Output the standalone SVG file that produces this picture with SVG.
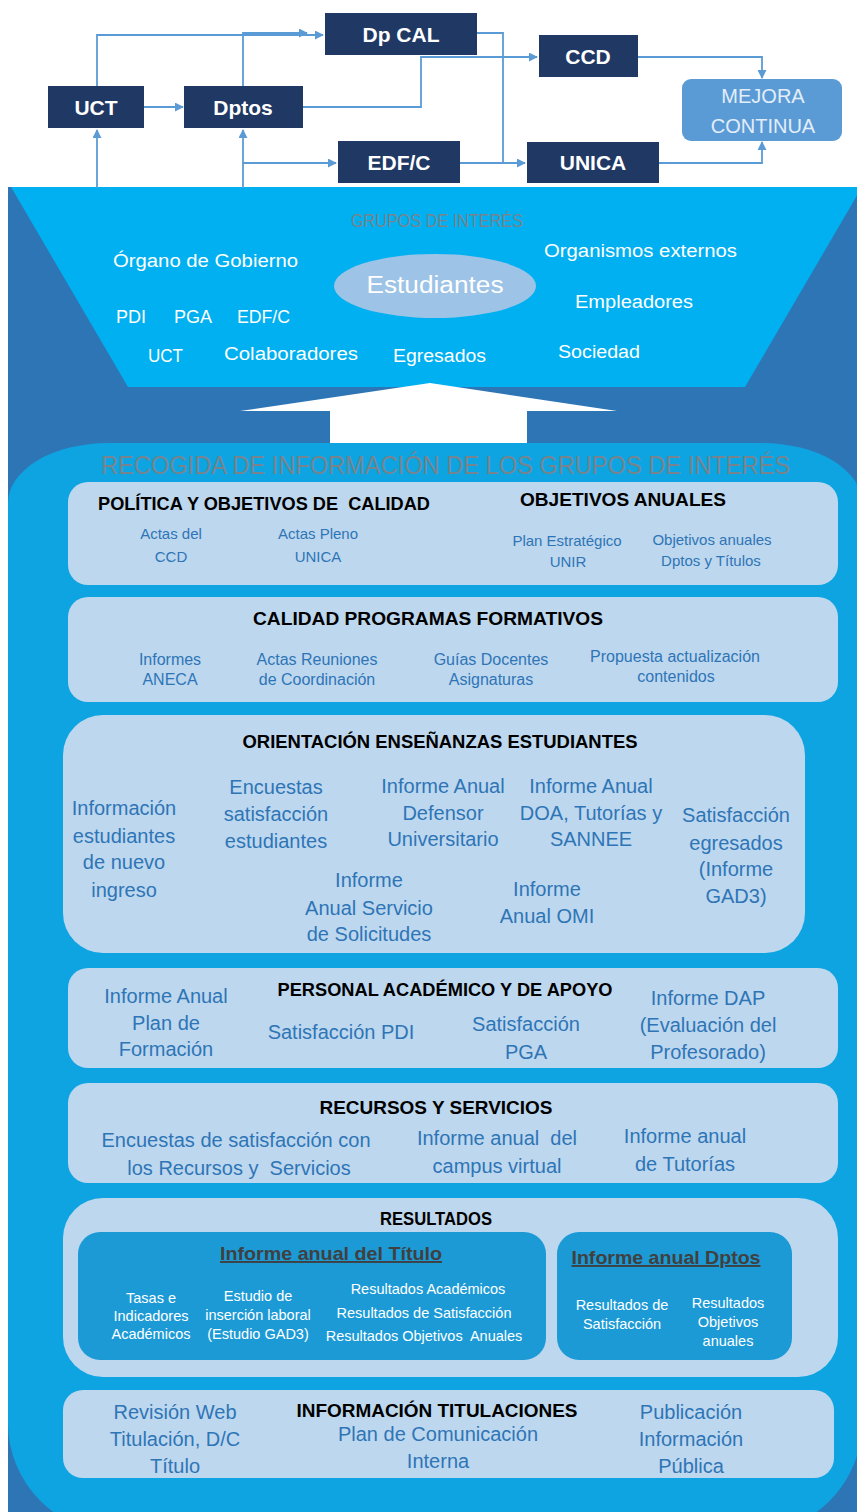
<svg xmlns="http://www.w3.org/2000/svg" width="857" height="1512" viewBox="0 0 857 1512">
<style>
text{font-family:"Liberation Sans",Arial,sans-serif}
.box{fill:#203864}
.bt{fill:#fff;font-weight:bold;font-size:21px;text-anchor:middle}
.con{fill:none;stroke:#5b9bd5;stroke-width:1.8}
.fw{fill:#fff;font-size:18px}
.gray{fill:#77848e}
.pan{fill:#bdd7ee}
.pt{fill:#000;font-weight:bold;font-size:18px}
.s1{fill:#2e75b6;font-size:15px;text-anchor:middle}
.s2{fill:#2e75b6;font-size:16px;text-anchor:middle}
.s3{fill:#2e75b6;font-size:20px;text-anchor:middle}
.inner{fill:#1c9ad6}
.it{fill:#404040;font-weight:bold;font-size:19px;text-anchor:middle;text-decoration:underline}
.w{fill:#fff;font-size:14.5px;text-anchor:middle}
</style>
<defs>
<marker id="ah" viewBox="0 0 10 10" refX="9" refY="5" markerWidth="5" markerHeight="5" orient="auto" markerUnits="strokeWidth">
<path d="M0,0 L10,5 L0,10 Z" fill="#5b9bd5"/>
</marker>
</defs>
<rect width="857" height="1512" fill="#fff"/>
<g id="background">
<rect x="8" y="187" width="849" height="1325" fill="#2e75b6"/>
<polygon id="funnel" points="11,187 862,187 745,387 128,387" fill="#00b0f0"/>
<polygon id="up-arrow" points="430,383 617,411 527,411 527,444 330,444 330,411 240,411" fill="#fff"/>
<path id="region" d="M108,443 H762 A100 60 0 0 1 862 503 V1423 A110 110 0 0 1 752 1533 H118 A110 110 0 0 1 8 1423 V503 A100 60 0 0 1 108 443 Z" fill="#0ea4e1"/>
</g>
<g id="connectors">
<path class="con" d="M97,86 V35 H323" marker-end="url(#ah)"/>
<path class="con" d="M243,86 V33 H307" marker-end="url(#ah)"/>
<path class="con" d="M144,107 H183" marker-end="url(#ah)"/>
<path class="con" d="M303,107 H421 V57 H537" marker-end="url(#ah)"/>
<path class="con" d="M477,33 H503 V163 H525" marker-end="url(#ah)"/>
<path class="con" d="M460,163 H503"/>
<path class="con" d="M97,188 V130" marker-end="url(#ah)" stroke-width="2"/>
<path class="con" d="M243,188 V130" marker-end="url(#ah)" stroke-width="2"/>
<path class="con" d="M243,163 H336" marker-end="url(#ah)"/>
<path class="con" d="M638,57 H762 V78" marker-end="url(#ah)"/>
<path class="con" d="M659,163 H762 V142" marker-end="url(#ah)"/>
</g>
<g id="node-dpcal"><rect class="box" x="325" y="13" width="152" height="42"/><text class="bt" x="401" y="42">Dp CAL</text></g>
<g id="node-uct"><rect class="box" x="48" y="86" width="96" height="42"/><text class="bt" x="96" y="115">UCT</text></g>
<g id="node-dptos"><rect class="box" x="184" y="86" width="119" height="42"/><text class="bt" x="243" y="115">Dptos</text></g>
<g id="node-ccd"><rect class="box" x="539" y="35" width="99" height="42"/><text class="bt" x="588" y="64">CCD</text></g>
<g id="node-edfc"><rect class="box" x="338" y="141" width="122" height="42"/><text class="bt" x="399" y="170">EDF/C</text></g>
<g id="node-unica"><rect class="box" x="527" y="142" width="132" height="41"/><text class="bt" x="593" y="170">UNICA</text></g>
<g id="node-mejora"><rect x="682" y="79" width="160" height="62" rx="9" fill="#5b9bd5"/><text x="763" y="103" fill="#e2eefa" font-size="20" text-anchor="middle">MEJORA</text><text x="763" y="133" fill="#e2eefa" font-size="20" text-anchor="middle">CONTINUA</text></g>
<g id="grupos">
<text class="gray" x="437" y="227" font-size="19" text-anchor="middle" textLength="172" lengthAdjust="spacingAndGlyphs">GRUPOS DE INTERÉS</text>
<text class="fw" x="113" y="267" textLength="185" lengthAdjust="spacingAndGlyphs">Órgano de Gobierno</text>
<text class="fw" x="544" y="257" textLength="193" lengthAdjust="spacingAndGlyphs">Organismos externos</text>
<ellipse cx="435" cy="286" rx="101" ry="32" fill="#9dc3e6"/>
<text x="435" y="293" fill="#fff" font-size="23" text-anchor="middle" textLength="137" lengthAdjust="spacingAndGlyphs">Estudiantes</text>
<text class="fw" x="575" y="308" textLength="118" lengthAdjust="spacingAndGlyphs">Empleadores</text>
<text class="fw" x="116" y="323" textLength="30" lengthAdjust="spacingAndGlyphs">PDI</text>
<text class="fw" x="174" y="323" textLength="38" lengthAdjust="spacingAndGlyphs">PGA</text>
<text class="fw" x="237" y="323" textLength="53" lengthAdjust="spacingAndGlyphs">EDF/C</text>
<text class="fw" x="148" y="362" textLength="35" lengthAdjust="spacingAndGlyphs">UCT</text>
<text class="fw" x="224" y="360" textLength="134" lengthAdjust="spacingAndGlyphs">Colaboradores</text>
<text class="fw" x="393" y="362" textLength="93" lengthAdjust="spacingAndGlyphs">Egresados</text>
<text class="fw" x="558" y="358" textLength="82" lengthAdjust="spacingAndGlyphs">Sociedad</text>
</g>
<text class="gray" x="101" y="474" font-size="26" textLength="689" lengthAdjust="spacingAndGlyphs">RECOGIDA DE INFORMACIÓN DE LOS GRUPOS DE INTERÉS</text>
<g id="panel-politica">
<rect class="pan" x="68" y="482" width="770" height="103" rx="20"/>
<text class="pt" x="98" y="510" textLength="332" lengthAdjust="spacingAndGlyphs" xml:space="preserve">POLÍTICA Y OBJETIVOS DE  CALIDAD</text>
<text class="pt" x="520" y="506" textLength="206" lengthAdjust="spacingAndGlyphs">OBJETIVOS ANUALES</text>
<text class="s1" x="171" y="539">Actas del</text><text class="s1" x="171" y="562">CCD</text>
<text class="s1" x="318" y="539">Actas Pleno</text><text class="s1" x="318" y="562">UNICA</text>
<text class="s1" x="567" y="546">Plan Estratégico</text><text class="s1" x="568" y="567">UNIR</text>
<text class="s1" x="712" y="545">Objetivos anuales</text><text class="s1" x="711" y="566">Dptos y Títulos</text>
</g>
<g id="panel-calidad">
<rect class="pan" x="68" y="597" width="770" height="105" rx="20"/>
<text class="pt" x="428" y="625" text-anchor="middle" textLength="350" lengthAdjust="spacingAndGlyphs">CALIDAD PROGRAMAS FORMATIVOS</text>
<text class="s2" x="170" y="665">Informes</text><text class="s2" x="170" y="685">ANECA</text>
<text class="s2" x="317" y="665">Actas Reuniones</text><text class="s2" x="317" y="685">de Coordinación</text>
<text class="s2" x="491" y="665">Guías Docentes</text><text class="s2" x="491" y="685">Asignaturas</text>
<text class="s2" x="675" y="662">Propuesta actualización</text><text class="s2" x="676" y="682">contenidos</text>
</g>
<g id="panel-orientacion">
<rect class="pan" x="63" y="715" width="742" height="238" rx="40"/>
<text class="pt" x="440" y="748" text-anchor="middle" textLength="395" lengthAdjust="spacingAndGlyphs">ORIENTACIÓN ENSEÑANZAS ESTUDIANTES</text>
<text class="s3" x="124" y="815">Información</text><text class="s3" x="124" y="843">estudiantes</text><text class="s3" x="124" y="869">de nuevo</text><text class="s3" x="124" y="897">ingreso</text>
<text class="s3" x="276" y="794">Encuestas</text><text class="s3" x="276" y="821">satisfacción</text><text class="s3" x="276" y="848">estudiantes</text>
<text class="s3" x="443" y="793">Informe Anual</text><text class="s3" x="443" y="820">Defensor</text><text class="s3" x="443" y="846">Universitario</text>
<text class="s3" x="591" y="793">Informe Anual</text><text class="s3" x="591" y="820">DOA, Tutorías y</text><text class="s3" x="591" y="846">SANNEE</text>
<text class="s3" x="736" y="822">Satisfacción</text><text class="s3" x="736" y="850">egresados</text><text class="s3" x="736" y="876">(Informe</text><text class="s3" x="736" y="903">GAD3)</text>
<text class="s3" x="369" y="887">Informe</text><text class="s3" x="369" y="915">Anual Servicio</text><text class="s3" x="369" y="941">de Solicitudes</text>
<text class="s3" x="547" y="896">Informe</text><text class="s3" x="547" y="923">Anual OMI</text>
</g>
<g id="panel-personal">
<rect class="pan" x="68" y="968" width="770" height="100" rx="20"/>
<text class="pt" x="445" y="996" text-anchor="middle" textLength="335" lengthAdjust="spacingAndGlyphs">PERSONAL ACADÉMICO Y DE APOYO</text>
<text class="s3" x="166" y="1003">Informe Anual</text><text class="s3" x="166" y="1030">Plan de</text><text class="s3" x="166" y="1056">Formación</text>
<text class="s3" x="341" y="1039">Satisfacción PDI</text>
<text class="s3" x="526" y="1031">Satisfacción</text><text class="s3" x="526" y="1059">PGA</text>
<text class="s3" x="708" y="1005">Informe DAP</text><text class="s3" x="708" y="1032">(Evaluación del</text><text class="s3" x="708" y="1059">Profesorado)</text>
</g>
<g id="panel-recursos">
<rect class="pan" x="68" y="1083" width="770" height="100" rx="20"/>
<text class="pt" x="436" y="1114" text-anchor="middle" textLength="233" lengthAdjust="spacingAndGlyphs">RECURSOS Y SERVICIOS</text>
<text class="s3" x="236" y="1147">Encuestas de satisfacción con</text><text class="s3" x="239" y="1175" xml:space="preserve">los Recursos y  Servicios</text>
<text class="s3" x="497" y="1145" xml:space="preserve">Informe anual  del</text><text class="s3" x="497" y="1173">campus virtual</text>
<text class="s3" x="685" y="1143">Informe anual</text><text class="s3" x="685" y="1171">de Tutorías</text>
</g>
<g id="panel-resultados">
<rect class="pan" x="63" y="1198" width="775" height="179" rx="40"/>
<text class="pt" x="436" y="1225" text-anchor="middle" textLength="112" lengthAdjust="spacingAndGlyphs">RESULTADOS</text>
<g id="informe-titulo">
<rect class="inner" x="78" y="1232" width="468" height="128" rx="22"/>
<text class="it" x="331" y="1260" textLength="222" lengthAdjust="spacingAndGlyphs">Informe anual del Título</text>
<text class="w" x="151" y="1303">Tasas e</text><text class="w" x="151" y="1321">Indicadores</text><text class="w" x="151" y="1339">Académicos</text>
<text class="w" x="258" y="1301">Estudio de</text><text class="w" x="258" y="1320">inserción laboral</text><text class="w" x="258" y="1339">(Estudio GAD3)</text>
<text class="w" x="428" y="1294">Resultados Académicos</text><text class="w" x="424" y="1318">Resultados de Satisfacción</text><text class="w" x="424" y="1341" xml:space="preserve">Resultados Objetivos  Anuales</text>
</g>
<g id="informe-dptos">
<rect class="inner" x="557" y="1232" width="235" height="128" rx="22"/>
<text class="it" x="666" y="1264" textLength="189" lengthAdjust="spacingAndGlyphs">Informe anual Dptos</text>
<text class="w" x="622" y="1310">Resultados de</text><text class="w" x="622" y="1329">Satisfacción</text>
<text class="w" x="728" y="1308">Resultados</text><text class="w" x="728" y="1327">Objetivos</text><text class="w" x="728" y="1346">anuales</text>
</g>
</g>
<g id="panel-informacion">
<rect class="pan" x="63" y="1390" width="771" height="88" rx="20"/>
<text class="pt" x="437" y="1417" text-anchor="middle" textLength="281" lengthAdjust="spacingAndGlyphs">INFORMACIÓN TITULACIONES</text>
<text class="s3" x="438" y="1441">Plan de Comunicación</text><text class="s3" x="438" y="1468">Interna</text>
<text class="s3" x="175" y="1419">Revisión Web</text><text class="s3" x="175" y="1446">Titulación, D/C</text><text class="s3" x="175" y="1473">Título</text>
<text class="s3" x="691" y="1419">Publicación</text><text class="s3" x="691" y="1446">Información</text><text class="s3" x="691" y="1473">Pública</text>
</g>
</svg>
